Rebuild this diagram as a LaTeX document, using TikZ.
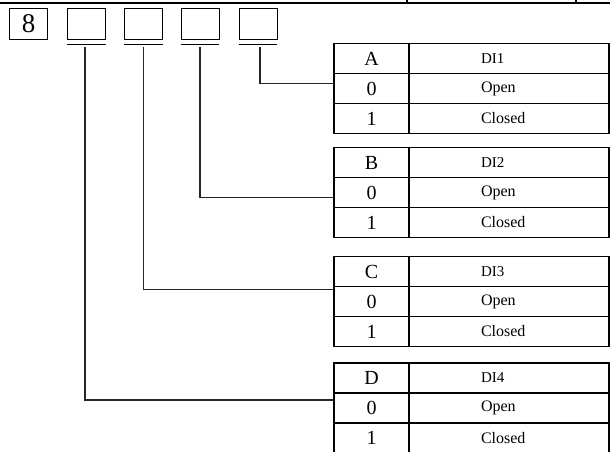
\documentclass[tikz,border=0pt]{standalone}
\usepackage{fontspec}
\setmainfont{Liberation Serif}
\usepackage{tikz}
\usetikzlibrary{positioning,calc}
\tikzset{
  digitbox/.style={rectangle,draw=black,line width=0.8pt,
    minimum width=38pt,minimum height=31pt,inner sep=1pt,
    font=\fontsize{27}{28}\selectfont},
  keycell/.style={rectangle,draw=black,line width=1.6pt,
    minimum width=75pt,minimum height=30pt,inner sep=1pt,
    font=\fontsize{20}{22}\selectfont},
  namecell/.style={rectangle,draw=black,line width=1.6pt,
    minimum width=200pt,minimum height=30pt,inner ysep=1pt,
    inner xsep=72pt,text width=56pt,align=left,
    font=\fontsize{16}{18}\selectfont},
  dihead/.style={namecell,font=\fontsize{15}{17}\selectfont},
  bar/.style={line width=1.2pt,draw=black},
  wire/.style={line width=1.2pt,draw=black!85},
}

\begin{document}
\begin{tikzpicture}[x=1pt,y=-1pt]
  \useasboundingbox (0,0) rectangle (610,452);
  % edge of the table above
  \draw[line width=1.6pt] (0,3) -- (610,3);
  \draw[line width=1.2pt] (407,0) -- (407,3);
  \draw[line width=1.2pt] (576,0) -- (576,3);

  % code digits
  \node[digitbox] (b0) at (28.5,23.5) {8};
  \node[digitbox] (b1) at (86.5,23.5) {};
  \node[digitbox] (b2) at (143.5,23.5) {};
  \node[digitbox] (b3) at (200,23.5) {};
  \node[digitbox] (b4) at (258,23.5) {};
  \draw[bar] ([yshift=-5pt]b1.south west) -- ([yshift=-5pt]b1.south east);
  \draw[bar] ([yshift=-5pt]b2.south west) -- ([yshift=-5pt]b2.south east);
  \draw[bar] ([yshift=-5pt]b3.south west) -- ([yshift=-5pt]b3.south east);
  \draw[bar] ([yshift=-5pt]b4.south west) -- ([yshift=-5pt]b4.south east);
  \coordinate (u1) at ([xshift=-1.5pt,yshift=-8pt]b1.south);
  \coordinate (u2) at ([yshift=-8pt]b2.south);
  \coordinate (u3) at ([yshift=-8pt]b3.south);
  \coordinate (u4) at ([xshift=2pt,yshift=-8pt]b4.south);

  % table A
  \node[keycell] (A-k) at (371.5,58.5) {A};
  \node[dihead] (A-n) at (509,58.5) {DI1};
  \node[keycell] (A-0) at (371.5,88.5) {0};
  \node[namecell] (A-0n) at (509,88.5) {Open};
  \node[keycell] (A-1) at (371.5,118.5) {1};
  \node[namecell] (A-1n) at (509,118.5) {Closed};

  % table B
  \node[keycell] (B-k) at (371.5,162.5) {B};
  \node[dihead] (B-n) at (509,162.5) {DI2};
  \node[keycell] (B-0) at (371.5,192.5) {0};
  \node[namecell] (B-0n) at (509,192.5) {Open};
  \node[keycell] (B-1) at (371.5,222.5) {1};
  \node[namecell] (B-1n) at (509,222.5) {Closed};

  % table C
  \node[keycell] (C-k) at (371.5,271.5) {C};
  \node[dihead] (C-n) at (509,271.5) {DI3};
  \node[keycell] (C-0) at (371.5,301.5) {0};
  \node[namecell] (C-0n) at (509,301.5) {Open};
  \node[keycell] (C-1) at (371.5,331.5) {1};
  \node[namecell] (C-1n) at (509,331.5) {Closed};

  % table D
  \node[keycell] (D-k) at (371.5,378) {D};
  \node[dihead] (D-n) at (509,378) {DI4};
  \node[keycell] (D-0) at (371.5,408) {0};
  \node[namecell] (D-0n) at (509,408) {Open};
  \node[keycell] (D-1) at (371.5,438) {1};
  \node[namecell] (D-1n) at (509,438) {Closed};

  % connectors
  \coordinate (inA) at ([yshift=5pt]A-0.west);
  \coordinate (inB) at ([yshift=-5pt]B-0.west);
  \coordinate (inC) at ([yshift=12pt]C-0.west);
  \coordinate (inD) at ([yshift=8pt]D-0.west);
  \draw[wire] (u4) |- (inA);
  \draw[wire] (u3) |- (inB);
  \draw[wire] (u2) |- (inC);
  \draw[wire] (u1) |- (inD);
\end{tikzpicture}
\end{document}
